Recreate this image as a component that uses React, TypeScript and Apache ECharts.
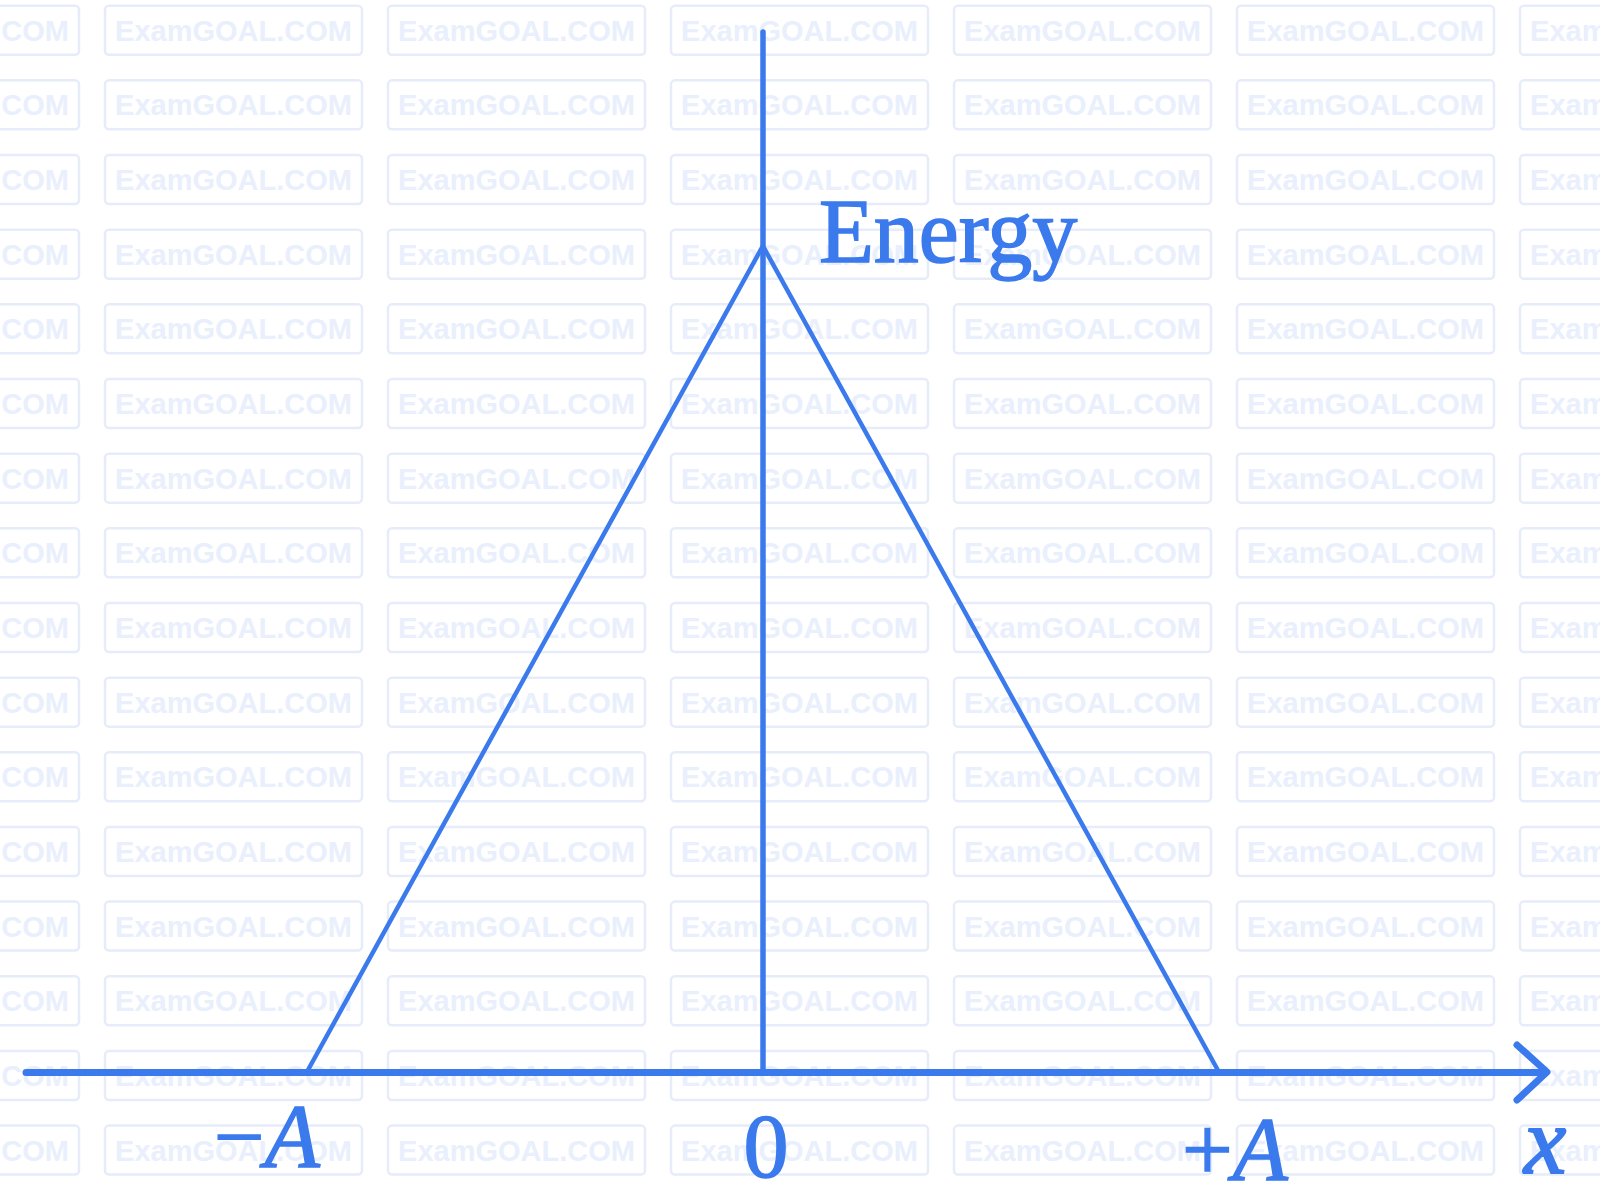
import React, { useEffect, useRef } from "react";
import * as echarts from "echarts";

// Data: displacement positions (in units of amplitude A) and total energy curve
const positions = [-1, 0, 1];
const energy = [0, 1, 0];
const tickValues = [-1, 0, 1];
const tickLabels = ["−A", "0", "+A"];
const xAxisName = "x";
const yAxisName = "Energy";
const watermarkText = "ExamGOAL.COM";

const BLUE = "#3b7aed";
const SERIF = '"Liberation Serif", "Times New Roman", serif';

export default function App() {
  const ref = useRef<HTMLDivElement>(null);

  useEffect(() => {
    document.body.style.margin = "0";
    const chart = echarts.init(ref.current!, null, { renderer: "svg" });

    // watermark grid
    const wm: any[] = [];
    for (let r = 0; r < 16; r++) {
      for (let c = 0; c < 7; c++) {
        const x = -178 + 283 * c;
        const y = 5.7 + 74.66 * r;
        wm.push({
          type: "rect",
          z: -10,
          silent: true,
          shape: { x, y, width: 257, height: 49, r: 4 },
          style: { fill: "none", stroke: "#e6ecfa", lineWidth: 2.5 },
        });
        wm.push({
          type: "text",
          z: -9,
          silent: true,
          x: x + 128.5,
          y: y + 25,
          style: {
            text: watermarkText,
            fontFamily: '"Liberation Sans", Arial, sans-serif',
            fontWeight: "bold",
            fontSize: 29,
            fill: "#e9effc",
            align: "center",
            verticalAlign: "middle",
          },
        });
      }
    }

    const xMin = -1.616;
    const xMax = 1.713;
    const yMin = 0;
    const yMax = 1.259;

    chart.setOption({
      animation: false,
      backgroundColor: "#ffffff",
      grid: { left: 26, right: 56, top: 32, bottom: 126 },
      xAxis: {
        type: "value",
        min: xMin,
        max: xMax,
        axisLine: { show: true, lineStyle: { color: BLUE, width: 7, cap: "round" } },
        axisTick: { show: false },
        axisLabel: { show: false },
        splitLine: { show: false },
      },
      yAxis: {
        type: "value",
        min: yMin,
        max: yMax,
        axisLine: { show: true, onZero: true, lineStyle: { color: BLUE, width: 5.5, cap: "round" } },
        axisTick: { show: false },
        axisLabel: { show: false },
        splitLine: { show: false },
      },
      graphic: wm,
      series: [
        {
          type: "line",
          data: positions.map((p, i) => [p, energy[i]]),
          symbol: "none",
          lineStyle: { color: BLUE, width: 4.5, join: "miter" },
          z: 3,
        },
      ],
    });

    const px = (x: number, y: number) => chart.convertToPixel({ gridIndex: 0 }, [x, y]) as number[];
    const labelOffsets = [
      { dx: -40, dy: 64 },
      { dx: 3, dy: 74 },
      { dx: 16, dy: 77 },
    ];
    const richStyle = (fontStyle: string) => ({
      fontFamily: SERIF,
      fontSize: 90,
      fill: BLUE,
      fontStyle,
      stroke: BLUE,
      lineWidth: 1.5,
    });
    const labels: any[] = tickValues.map((v, i) => {
      const [x, y] = px(v, 0);
      const t = tickLabels[i];
      const sign = t.length > 1 ? t[0] : "";
      const letter = t.length > 1 ? t.slice(1) : t;
      const italic = letter !== "0";
      return {
        type: "text",
        z: 100,
        x: x + labelOffsets[i].dx,
        y: y + labelOffsets[i].dy,
        style: {
          text: sign ? `{n|${sign}}{i|${letter}}` : italic ? `{i|${letter}}` : `{n|${letter}}`,
          align: "center",
          verticalAlign: "middle",
          fill: BLUE,
          rich: {
            n: richStyle("normal"),
            i: richStyle("italic"),
          },
        },
      };
    });

    const [tipX, tipY] = px(xMax, 0);
    const tip = tipX + 3;
    const [apexX, apexY] = px(0, Math.max(...energy));

    chart.setOption({
      graphic: [
        ...wm,
        ...labels,
        {
          type: "polyline",
          z: 100,
          shape: {
            points: [
              [tip - 30, tipY - 27],
              [tip, tipY],
              [tip - 30, tipY + 28],
            ],
          },
          style: { stroke: BLUE, lineWidth: 7, lineCap: "round", lineJoin: "round", fill: "none" },
        },
        {
          type: "text",
          z: 100,
          x: tip - 2,
          y: tipY + 69,
          style: {
            text: xAxisName,
            fontFamily: SERIF,
            fontStyle: "italic",
            fontSize: 95,
            fill: BLUE,
            stroke: BLUE,
            lineWidth: 2,
            align: "center",
            verticalAlign: "middle",
          },
        },
        {
          type: "text",
          z: 100,
          x: apexX + 56,
          y: apexY - 14,
          style: {
            text: yAxisName,
            fontFamily: SERIF,
            fontSize: 90,
            fill: BLUE,
            stroke: BLUE,
            lineWidth: 1.5,
            align: "left",
            verticalAlign: "middle",
          },
        },
      ],
    });

    return () => chart.dispose();
  }, []);

  return (
    <div
      ref={ref}
      style={{ position: "absolute", left: 0, top: 0, width: 1600, height: 1198 }}
    />
  );
}
